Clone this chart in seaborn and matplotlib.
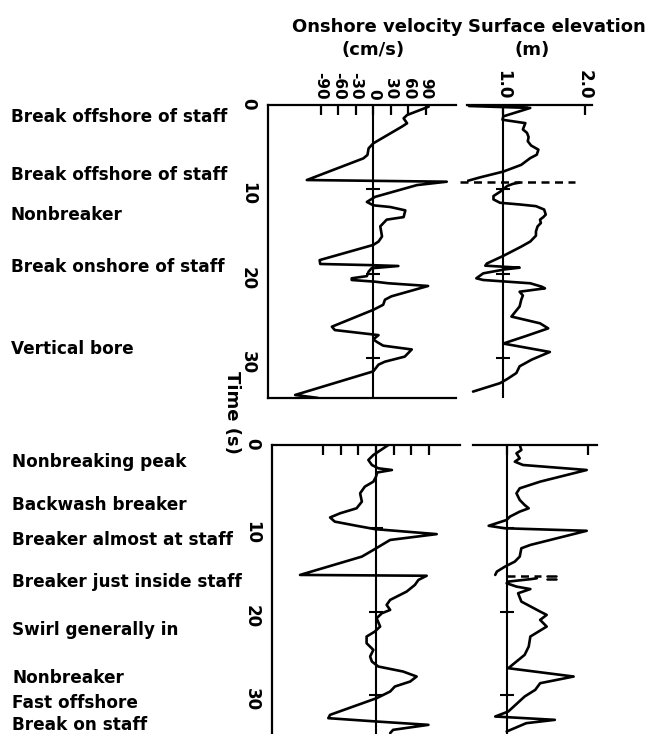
import numpy as np
import pandas as pd
import matplotlib
matplotlib.use("Agg")
import matplotlib.pyplot as plt
import matplotlib.transforms as mtransforms
import seaborn as sns

sns.set_style("white")
plt.rcParams['font.family'] = ['DejaVu Sans']
plt.rcParams['axes.unicode_minus'] = False
plt.rcParams['text.color'] = 'black'
plt.rcParams['xtick.color'] = 'black'
plt.rcParams['ytick.color'] = 'black'
plt.rcParams['axes.labelcolor'] = 'black'

# event labels on the left, with the time (s) they belong to
top_events = ["Break offshore of staff", "Break offshore of staff", "Nonbreaker",
              "Break onshore of staff", "Vertical bore"]
top_event_t = [2.0, 8.9, 13.6, 19.8, 29.5]
bot_events = ["Nonbreaking peak", "Backwash breaker", "Breaker almost at staff",
              "Breaker just inside staff", "Swirl generally in", "Nonbreaker",
              "Fast offshore", "Break on staff"]
bot_event_t = [2.6, 7.8, 12.0, 17.0, 22.8, 28.6, 31.6, 34.25]

vel_ticks = [-90, -60, -30, 0, 30, 60, 90]
elev_ticks = [1.0, 2.0]
time_ticks = [0, 10, 20, 30]
mark_ticks = [10, 20, 30]

# record 1: onshore velocity (cm/s) against time (s)
top_vel_t = [0.2, 1.19, 1.58, 2.17, 2.57, 4.55, 5.14, 5.93, 6.33, 8.9, 9.1, 9.5, 10.9,
             11.5, 11.9, 12.1, 12.5, 13.3, 13.6, 14.4, 15.6, 16.2, 16.6, 18.4, 18.86,
             19.0, 19.1, 19.37, 19.77, 20.3, 20.56, 20.76, 20.96, 21.15, 21.47, 22.7,
             23.1, 23.7, 24.3, 26.3, 26.7, 27.3, 27.8, 28.1, 28.55, 29.0, 29.85, 30.45,
             30.8, 31.6, 34.4, 34.75]
top_vel = [95, 58, 52, 58, 49, 0, -8, -10, -17, -114, 126, 75, 3,
           -11, 0, 29, 55, 52, 23, 12, 15, 9, 0, -92, -91,
           -3, 43, -3, -8, -11, -37, -37, 3, 26, 94, 31,
           20, 17, 0, -71, -66, 9, 0, 6, 17, 66, 54, 20,
           9, 0, -134, -95]

# record 1: surface elevation (m), two pieces either side of the breaker
top_elev_t1 = [0.0, 0.12, 0.35, 1.35, 1.75, 2.15, 2.9, 3.3, 3.8, 4.3, 4.8, 5.3, 5.9,
               6.3, 7.1, 7.9, 8.6, 9.15]
top_elev1 = [1.30, 0.58, 1.33, 1.00, 0.99, 1.27, 1.24, 1.29, 1.31, 1.30, 1.34, 1.43, 1.41,
             1.33, 1.22, 1.00, 0.71, 0.51]
top_elev_t2 = [9.2, 9.35, 9.6, 10.3, 10.8, 11.2, 11.6, 11.8, 12.0, 12.4, 13.0, 13.3, 13.6,
               14.0, 14.4, 15.0, 15.5, 16.2, 16.8, 17.9, 18.8, 19.06, 19.3, 19.5, 19.97,
               20.56, 20.76, 21.15, 21.55, 21.75, 22.15, 22.6, 23.1, 23.9, 24.5, 25.1,
               25.9, 26.5, 27.4, 28.3, 29.3, 30.2, 31.0, 31.8, 32.5, 33.0, 34.0]
top_elev2 = [1.20, 1.12, 1.05, 0.96, 0.88, 0.88, 0.96, 1.20, 1.40, 1.50, 1.52, 1.49, 1.45,
             1.46, 1.42, 1.40, 1.40, 1.33, 1.22, 1.00, 0.80, 0.78, 1.20, 1.02, 0.755,
             0.67, 0.755, 1.33, 1.47, 1.51, 1.20, 1.24, 1.22, 1.20, 1.15, 1.10,
             1.45, 1.55, 1.28, 1.00, 1.57, 1.35, 1.20, 1.16, 1.05, 0.96, 0.63]
top_break_t = 9.13
top_break_e = [0.47, 1.88]

# record 2: onshore velocity (cm/s)
bot_vel_t = [0.0, 1.2, 1.8, 2.4, 2.8, 3.0, 3.3, 3.8, 4.4, 5.0, 5.8, 6.8, 7.6, 8.2, 8.7,
             9.2, 9.7, 10.1, 10.7, 11.4, 12.6, 13.4, 15.6, 15.7, 16.2, 16.8, 17.6, 18.6,
             19.2, 19.8, 20.2, 20.8, 21.8, 22.4, 23.0, 23.8, 24.6, 25.4, 26.0, 26.6,
             27.2, 27.8, 28.4, 29.0, 29.6, 30.4, 32.4, 32.8, 33.2, 33.6, 34.2, 34.6]
bot_vel = [21, -4.5, -13, -7, 4, 27, 2, 0, -4.5, -19, -27, -24, -33, -61, -78,
           -70, -33, -2, 103, 24, -4.5, -24, -129, 86, 72, 66, 52, 24,
           18, 24, 10, 1, 7, -2, -16, -16, -4.5, -10, -7, 4,
           46, 69, 58, 32, 24, 1, -78, -81, 1, 89, 29, 24]

# record 2: surface elevation (m)
bot_elev_t1 = [0.0, 0.6, 1.0, 1.6, 2.0, 2.4, 3.0, 4.4, 5.2, 5.8, 6.6, 7.2, 7.6, 8.0,
               8.6, 9.0, 9.7, 10.0, 10.3, 12.0, 12.4, 13.4, 14.0, 14.6, 15.2, 15.6]
bot_elev1 = [1.16, 1.18, 1.12, 1.16, 1.10, 1.20, 1.98, 1.41, 1.16, 1.12, 1.16, 1.22, 1.27, 1.16,
             1.04, 1.00, 0.78, 0.98, 1.98, 1.29, 1.18, 1.16, 1.10, 0.98, 0.88, 0.86]
bot_elev_t2 = [16.0, 16.1, 16.4, 16.6, 17.0, 17.3, 17.8, 18.8, 20.0, 20.4, 21.0, 21.8,
               23.0, 24.2, 25.2, 26.0, 26.8, 27.8, 28.6, 29.4, 30.2, 32.0, 32.6, 33.0,
               33.4, 34.4]
bot_elev2 = [1.37, 1.30, 1.02, 1.00, 1.12, 1.29, 1.14, 1.18, 1.41, 1.49, 1.41, 1.49,
             1.29, 1.27, 1.22, 1.12, 1.02, 1.82, 1.41, 1.35, 1.22, 1.02, 0.86, 1.59,
             1.24, 1.00]
bot_break_t = 15.67
bot_break_e = [1.0, 1.42]
bot_eq_t = [15.72, 16.04]
bot_eq_e = [1.49, 1.61]

W, H = 646, 734
fig = plt.figure(figsize=(W / 100, H / 100), dpi=100)


def px_axes(l, r, t, b):
    return fig.add_axes([l / W, 1 - b / H, (r - l) / W, (b - t) / H])


def curve(ax, t, x):
    df = pd.DataFrame({"x": x, "t": t})
    sns.lineplot(data=df, x="x", y="t", sort=False, estimator=None, color="black",
                 lw=1.9, ax=ax)


def style_vel(ax, xlim, ylim, labels, bottom):
    ax.set_xlim(xlim)
    ax.set_ylim(ylim)
    ax.axvline(0, color="black", lw=1.5)
    ax.plot([0] * len(mark_ticks), mark_ticks, ls="none", marker="_", ms=10, mew=1.5,
            color="black")
    ax.spines["right"].set_visible(False)
    ax.spines["bottom"].set_visible(bottom)
    for s in ax.spines.values():
        s.set_color("black")
        s.set_linewidth(1.6)
    ax.xaxis.tick_top()
    ax.set_xticks(vel_ticks)
    ax.set_xticklabels([str(v) for v in vel_ticks] if labels else [])
    ax.tick_params(axis="x", direction="in", length=7, width=1.6, pad=4,
                   labelrotation=-90, labelsize=11)
    ax.set_yticks(time_ticks)
    ax.set_yticklabels([str(v) for v in time_ticks])
    ax.tick_params(axis="y", direction="in", length=6, width=1.6, pad=8,
                   labelrotation=-90, labelsize=12)
    for lab in ax.get_xticklabels() + ax.get_yticklabels():
        lab.set_fontweight("bold")
    ax.set_xlabel("")
    ax.set_ylabel("")


def style_elev(ax, xlim, ylim, labels):
    ax.set_xlim(xlim)
    ax.set_ylim(ylim)
    ax.axvline(1.0, color="black", lw=1.5)
    ax.plot([1.0] * len(mark_ticks), mark_ticks, ls="none", marker="_", ms=10, mew=1.5,
            color="black")
    for s in ["left", "right", "bottom"]:
        ax.spines[s].set_visible(False)
    ax.spines["top"].set_color("black")
    ax.spines["top"].set_linewidth(1.6)
    ax.xaxis.tick_top()
    ax.set_xticks(elev_ticks)
    ax.set_xticklabels(["%.1f" % v for v in elev_ticks] if labels else [])
    ax.tick_params(axis="x", direction="in", length=7, width=1.6, pad=4,
                   labelrotation=-90, labelsize=12)
    for lab in ax.get_xticklabels():
        lab.set_fontweight("bold")
    ax.set_yticks([])
    ax.set_xlabel("")
    ax.set_ylabel("")


# record 1
ax1 = px_axes(268, 456, 105, 398)
curve(ax1, top_vel_t, top_vel)
style_vel(ax1, (-180.6, 141.9), (34.76, 0), True, True)

ax2 = px_axes(467, 592, 105, 398)
curve(ax2, top_elev_t1, top_elev1)
curve(ax2, top_elev_t2, top_elev2)
ax2.plot(top_break_e, [top_break_t] * 2, color="black", lw=1.8, ls=(0, (3.2, 2.2)),
         clip_on=False)
style_elev(ax2, (0.556, 2.086), (34.76, 0), True)

# record 2
ax3 = px_axes(272, 460, 445, 734)
curve(ax3, bot_vel_t, bot_vel)
style_vel(ax3, (-176.6, 142.6), (34.7, 0), False, False)

ax4 = px_axes(473, 597, 445, 734)
curve(ax4, bot_elev_t1, bot_elev1)
curve(ax4, bot_elev_t2, bot_elev2)
ax4.plot(bot_break_e, [bot_break_t] * 2, color="black", lw=1.8, ls=(0, (3.2, 2.2)))
for tt in bot_eq_t:
    ax4.plot(bot_eq_e, [tt, tt], color="black", lw=1.8)
style_elev(ax4, (0.588, 2.106), (34.7, 0), False)

# headings
bold = dict(fontsize=13, fontweight="bold", ha="center", va="baseline")
fig.text(377 / W, 1 - 31.7 / H, "Onshore velocity", **bold)
fig.text(373 / W, 1 - 55 / H, "(cm/s)", **bold)
fig.text(557 / W, 1 - 31.7 / H, "Surface elevation", **bold)
fig.text(532 / W, 1 - 55 / H, "(m)", **bold)
fig.text(232 / W, 1 - 412 / H, "Time (s)", fontsize=13, fontweight="bold",
         rotation=-90, ha="center", va="center")

# event labels
tr1 = mtransforms.blended_transform_factory(fig.transFigure, ax1.transData)
for lab, tt in zip(top_events, top_event_t):
    fig.text(11 / W, tt, lab, transform=tr1, fontsize=12.2, fontweight="bold",
             ha="left", va="baseline")
tr3 = mtransforms.blended_transform_factory(fig.transFigure, ax3.transData)
for lab, tt in zip(bot_events, bot_event_t):
    fig.text(12 / W, tt, lab, transform=tr3, fontsize=12.2, fontweight="bold",
             ha="left", va="baseline")

fig.savefig("out.png", dpi=100)
